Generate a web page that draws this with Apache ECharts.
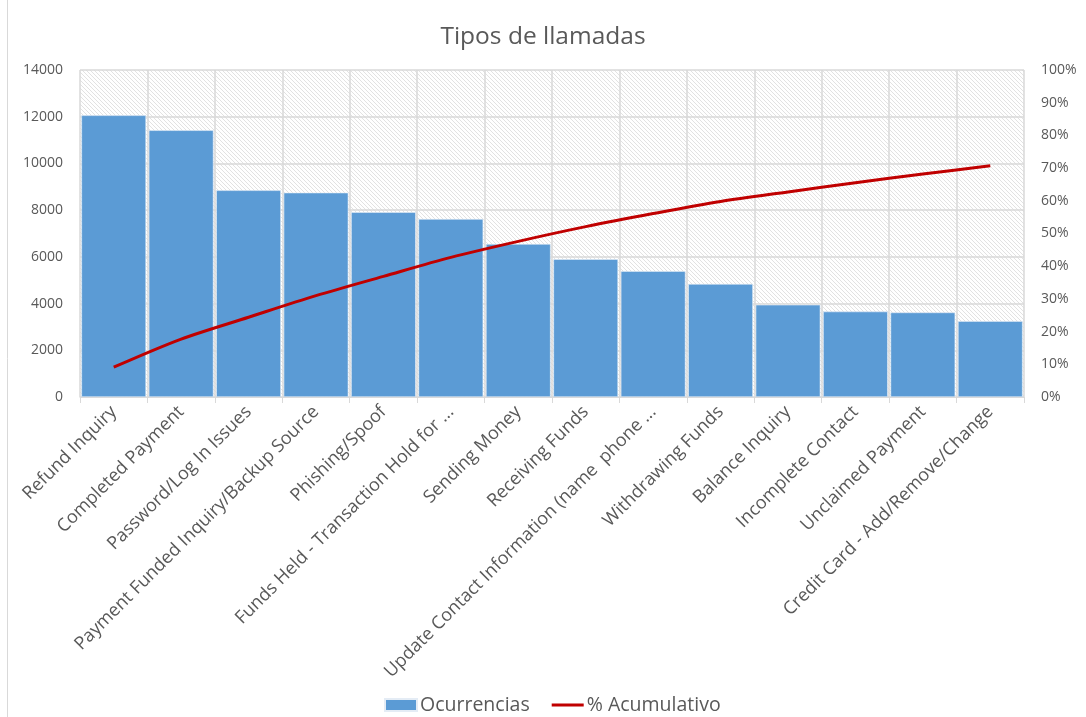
<!DOCTYPE html>
<html>
<head>
<meta charset="utf-8">
<script src="https://cdn.jsdelivr.net/npm/echarts@6/dist/echarts.min.js"></script>
<style>
html,body{margin:0;padding:0;background:#fff;}
#chart{width:1086px;height:717px;}
</style>
</head>
<body>
<div id="chart"></div>
<script>
const categories = ["Refund Inquiry","Completed Payment","Password/Log In Issues","Payment Funded Inquiry/Backup Source","Phishing/Spoof","Funds Held - Transaction Hold for ...","Sending Money","Receiving Funds","Update Contact Information (name  phone ...","Withdrawing Funds","Balance Inquiry","Incomplete Contact","Unclaimed Payment","Credit Card - Add/Remove/Change"];
const ocurrencias = [12060,11420,8850,8750,7910,7620,6550,5900,5390,4840,3950,3660,3620,3250];
const acumulativo = [9.1,17.7,24.4,31.0,36.9,42.7,47.6,52.1,56.1,59.8,62.7,65.5,68.2,70.7];
const leftTicks = [0,2000,4000,6000,8000,10000,12000,14000];
const rightTicks = [0,10,20,30,40,50,60,70,80,90,100];

const FONT = 'Open Sans';
const pc = document.createElement('canvas');
pc.width = 8; pc.height = 8;
const ctx = pc.getContext('2d');
ctx.fillStyle = '#ffffff'; ctx.fillRect(0,0,8,8);
ctx.strokeStyle = '#e2e2e2'; ctx.lineWidth = 1;
for (let k = -8; k <= 8; k += 4) {
  ctx.beginPath(); ctx.moveTo(k, 0); ctx.lineTo(k + 8, 8); ctx.stroke();
}

const lineIcon = 'path://M0,4.5h32v3h-32z M0,0h0.01v0.01h-0.01z M0,11.99h0.01v0.01h-0.01z';

const chart = echarts.init(document.getElementById('chart'));
chart.setOption({
  animation: false,
  backgroundColor: '#ffffff',
  textStyle: { fontFamily: FONT },
  title: {
    text: 'Tipos de llamadas', left: 'center', top: 20,
    textStyle: { fontFamily: FONT, fontSize: 24.5, fontWeight: 'normal', color: '#595959' }
  },
  legend: {
    top: 690, left: 379, itemGap: 22, itemWidth: 32, itemHeight: 12,
    textStyle: { fontFamily: FONT, fontSize: 19.5, color: '#595959', padding: [0, 0, 0, -2] },
    data: [{ name: 'Ocurrencias', icon: 'rect' }, { name: '% Acumulativo', icon: lineIcon, itemStyle: { color: '#c00000' } }]
  },
  grid: {
    left: 80, right: 62, top: 70, bottom: 320, show: true,
    backgroundColor: { image: pc, repeat: 'repeat' }, borderWidth: 0
  },
  xAxis: {
    type: 'category', data: categories,
    axisLine: { lineStyle: { color: '#d9d9d9' } },
    axisTick: { show: true, length: 6, lineStyle: { color: '#d9d9d9' } },
    splitLine: { show: true, lineStyle: { color: '#d9d9d9', width: 1.5 } },
    axisLabel: { rotate: 45, interval: 0, fontFamily: FONT, fontSize: 18, color: '#595959', margin: 12 }
  },
  yAxis: [
    {
      type: 'value', min: 0, max: 14000, interval: 2000,
      axisLine: { show: false }, axisTick: { show: false },
      splitLine: { lineStyle: { color: '#d9d9d9', width: 1.5 } },
      axisLabel: { fontFamily: FONT, fontSize: 14, color: '#595959', margin: 17,
        formatter: v => leftTicks.includes(v) ? String(v) : '' }
    },
    {
      type: 'value', min: 0, max: 100, interval: 10,
      axisLine: { show: false }, axisTick: { show: false }, splitLine: { show: false },
      axisLabel: { fontFamily: FONT, fontSize: 14, color: '#595959', margin: 17,
        formatter: v => rightTicks.includes(v) ? v + '%' : '' }
    }
  ],
  series: [
    {
      name: 'Ocurrencias', type: 'bar', data: ocurrencias, barCategoryGap: '4%',
      itemStyle: { color: '#5b9bd5', borderColor: '#e4ecf5', borderWidth: 0.6 }
    },
    {
      name: '% Acumulativo', type: 'line', yAxisIndex: 1, data: acumulativo,
      smooth: 0.3, symbol: 'none', lineStyle: { color: '#c00000', width: 3 },
      itemStyle: { color: '#c00000' }
    }
  ],
  graphic: [
    { type: 'line', shape: { x1: 7.5, y1: 0, x2: 7.5, y2: 717 }, style: { stroke: '#d9d9d9', lineWidth: 1 } }
  ]
});
</script>
</body>
</html>
